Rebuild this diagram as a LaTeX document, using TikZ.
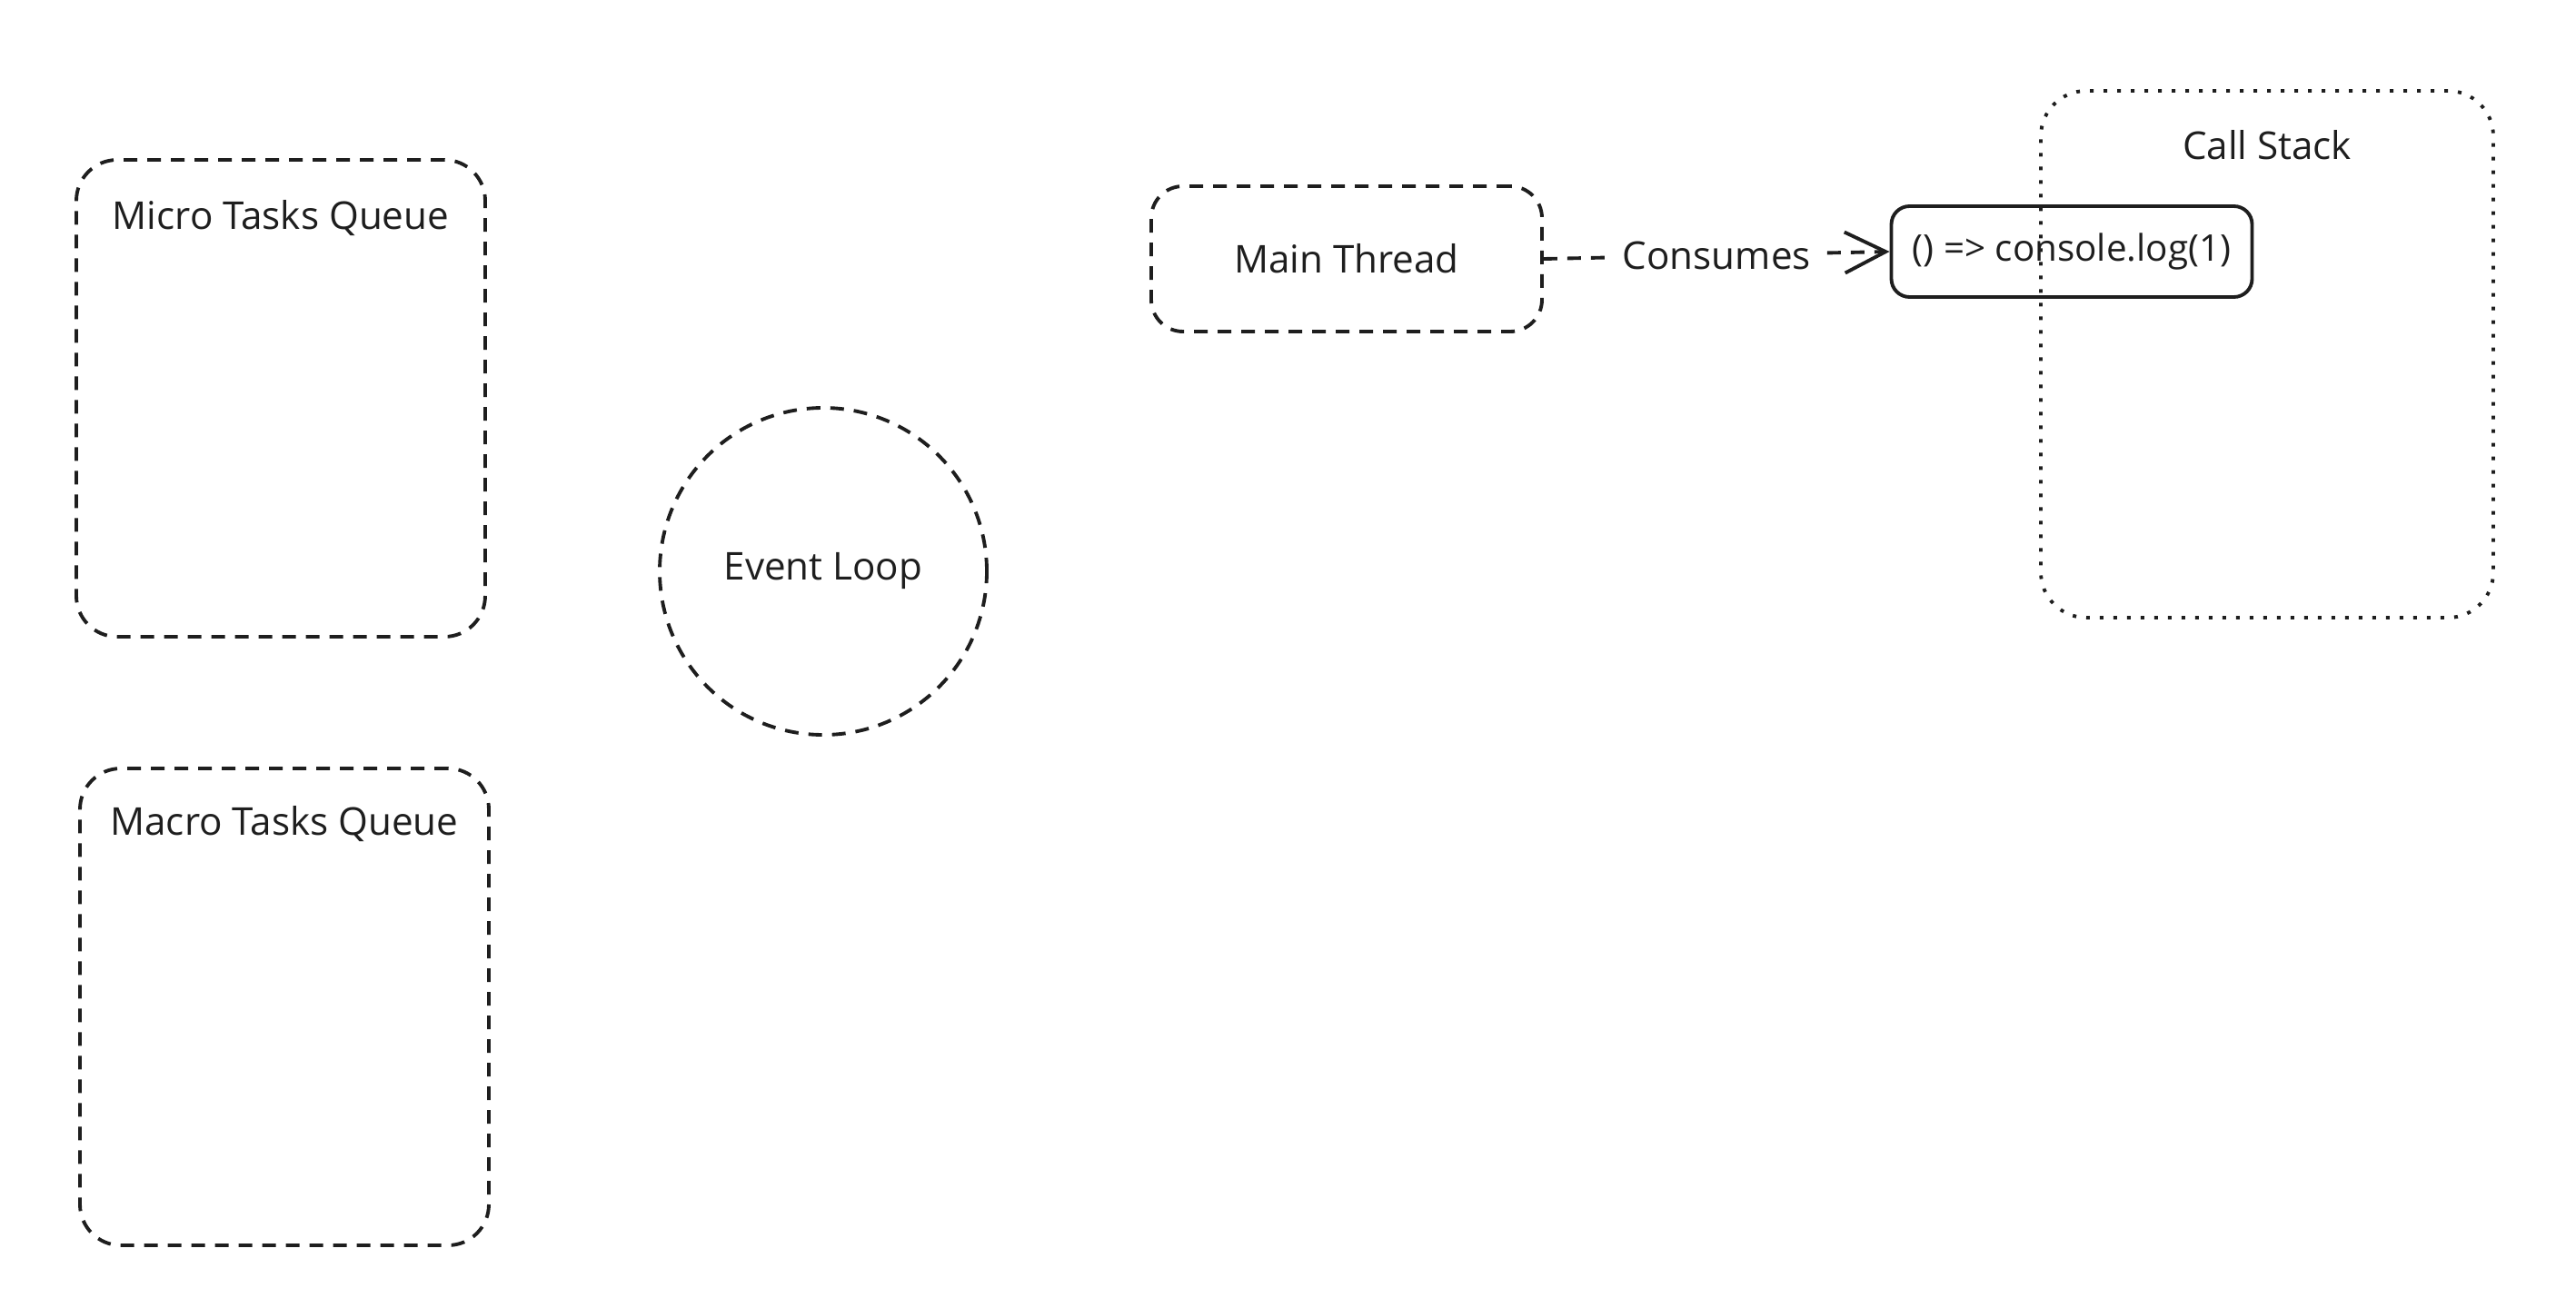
\documentclass[tikz,border=0pt]{standalone}
\usepackage{fontspec}
\setmainfont{Open Sans}
\usetikzlibrary{arrows.meta}

\definecolor{ink}{HTML}{1E1E1E}

\begin{document}
\begin{tikzpicture}[
        every node/.style={font=\fontsize{12}{14}\selectfont, text=ink},
        queuebox/.style={draw=ink, line width=1.1pt, dash pattern=on 1.5mm off 1.1mm,
            rounded corners=0.45cm, minimum width=4.5cm, minimum height=5.25cm},
        threadbox/.style={draw=ink, line width=1.1pt, dash pattern=on 1.5mm off 1.1mm,
            rounded corners=0.35cm, minimum width=4.3cm, minimum height=1.6cm},
        loopcircle/.style={draw=ink, circle, line width=1.1pt, dash pattern=on 1.5mm off 1.1mm,
            minimum size=3.6cm},
        stackbox/.style={draw=ink, line width=1.1pt, dash pattern=on 0.4mm off 1.1mm,
            rounded corners=0.5cm, minimum width=4.98cm, minimum height=5.8cm},
        taskbox/.style={draw=ink, line width=1.1pt, rounded corners=0.2cm,
            minimum width=3.97cm, minimum height=1cm},
        consumes/.style={draw=ink, line width=1.1pt, dash pattern=on 1.5mm off 1.1mm,
            -{Straight Barb[length=4.5mm, width=4.5mm]}}
    ]
        \useasboundingbox (0, 0) rectangle (28.35, 14.28);
        % queues on the left
        \node[queuebox, label={[anchor=center, yshift=-0.66cm]north:Micro Tasks Queue}](micro)at(3.09, 9.895){};
        \node[queuebox, label={[anchor=center, yshift=-0.63cm]north:Macro Tasks Queue}](macro)at(3.13, 3.195){};
        \node[loopcircle](loop)at(9.06, 7.99){Event Loop};
        % thread and stack
        \node[stackbox, label={[anchor=center, yshift=-0.62cm]north:Call Stack}](stack)at(24.95, 10.38){};
        \node[threadbox](thread)at(14.82, 11.43){Main Thread};
        \node[taskbox, font=\fontsize{11.5}{14}\selectfont](task)at(22.8, 11.51){() => console.log(1)};
        \draw[consumes](thread.east)to node[fill=white, inner xsep=4pt]{Consumes}(task.west);
    \end{tikzpicture}
\end{document}
